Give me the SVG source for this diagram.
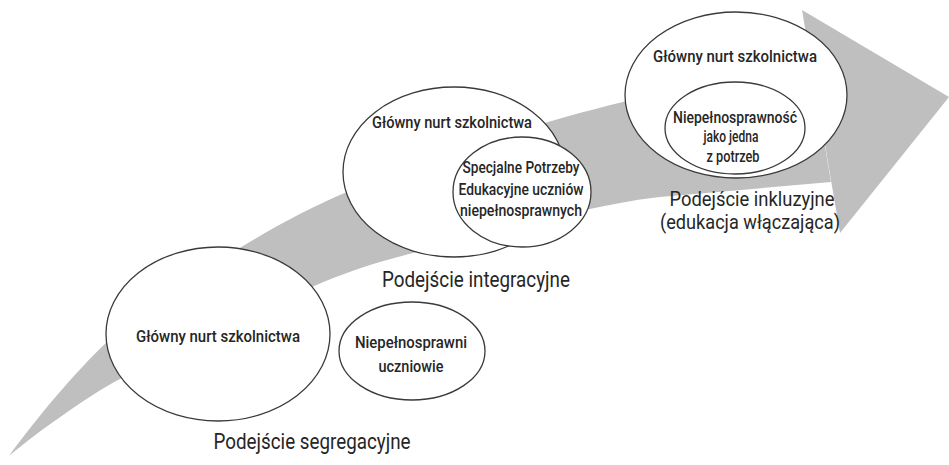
<svg xmlns="http://www.w3.org/2000/svg" width="949" height="465" viewBox="0 0 949 465">
<style>
.bg{fill:#ffffff}
.arrow{fill:#bfbfbf;stroke:none}
.node ellipse{fill:#ffffff;stroke:#3a3a3a;stroke-width:1.3}
text{font-family:Roboto,"Liberation Sans",sans-serif;fill:#262626;text-anchor:middle;font-weight:500}
.t{font-size:17px}
.lbl{font-size:22px;font-weight:400}
.lbl2{font-size:21px;font-weight:400}
</style>
<rect class="bg" x="0" y="0" width="949" height="465"/>
<g id="connectors">
<path class="arrow" d="M9,456 C35,420 75,372 107,342 C170,290 267,225 347,192 C440,154 540,122 623,102 L810,58 L831,182 L660,197 C600,203 470,237 380,262 C330,275 200,335 118,380 C90,395 40,430 9,456 Z"/>
<polygon class="arrow" points="802,10 949,97 840,233"/>
</g>
<g id="seg-main" class="node">
<ellipse cx="218" cy="334" rx="112" ry="87"/>
<text class="t" x="218" y="342" textLength="164" lengthAdjust="spacingAndGlyphs">Główny nurt szkolnictwa</text>
</g>
<g id="seg-disabled" class="node">
<ellipse cx="412" cy="351" rx="73" ry="49"/>
<text class="t" x="411" y="348" textLength="112" lengthAdjust="spacingAndGlyphs">Niepełnosprawni</text>
<text class="t" x="411" y="372" textLength="65" lengthAdjust="spacingAndGlyphs">uczniowie</text>
</g>
<g id="seg-label">
<text class="lbl" x="312" y="449" textLength="197" lengthAdjust="spacingAndGlyphs">Podejście segregacyjne</text>
</g>
<g id="int-main" class="node">
<ellipse cx="454" cy="172" rx="111" ry="85"/>
<text class="t" x="452" y="128" textLength="160" lengthAdjust="spacingAndGlyphs">Główny nurt szkolnictwa</text>
</g>
<g id="int-spe" class="node">
<ellipse cx="522" cy="192" rx="69" ry="55"/>
<text class="t" x="521" y="173" textLength="117" lengthAdjust="spacingAndGlyphs">Specjalne Potrzeby</text>
<text class="t" x="521" y="195" textLength="125" lengthAdjust="spacingAndGlyphs">Edukacyjne uczniów</text>
<text class="t" x="521" y="216" textLength="122" lengthAdjust="spacingAndGlyphs">niepełnosprawnych</text>
</g>
<g id="int-label">
<text class="lbl" x="476" y="287" textLength="188" lengthAdjust="spacingAndGlyphs">Podejście integracyjne</text>
</g>
<g id="inc-main" class="node">
<ellipse cx="736" cy="95" rx="111" ry="83"/>
<text class="t" x="735" y="62" textLength="164" lengthAdjust="spacingAndGlyphs">Główny nurt szkolnictwa</text>
</g>
<g id="inc-inner" class="node">
<ellipse cx="735" cy="128" rx="70" ry="46"/>
<text class="t" x="735" y="123" textLength="124" lengthAdjust="spacingAndGlyphs">Niepełnosprawność</text>
<text class="t" x="731" y="142" textLength="55" lengthAdjust="spacingAndGlyphs">jako jedna</text>
<text class="t" x="733" y="162" textLength="53" lengthAdjust="spacingAndGlyphs">z potrzeb</text>
</g>
<g id="inc-label">
<text class="lbl2" x="752" y="206" textLength="165" lengthAdjust="spacingAndGlyphs">Podejście inkluzyjne</text>
<text class="lbl2" x="750" y="229" textLength="180" lengthAdjust="spacingAndGlyphs">(edukacja włączająca)</text>
</g>
</svg>
